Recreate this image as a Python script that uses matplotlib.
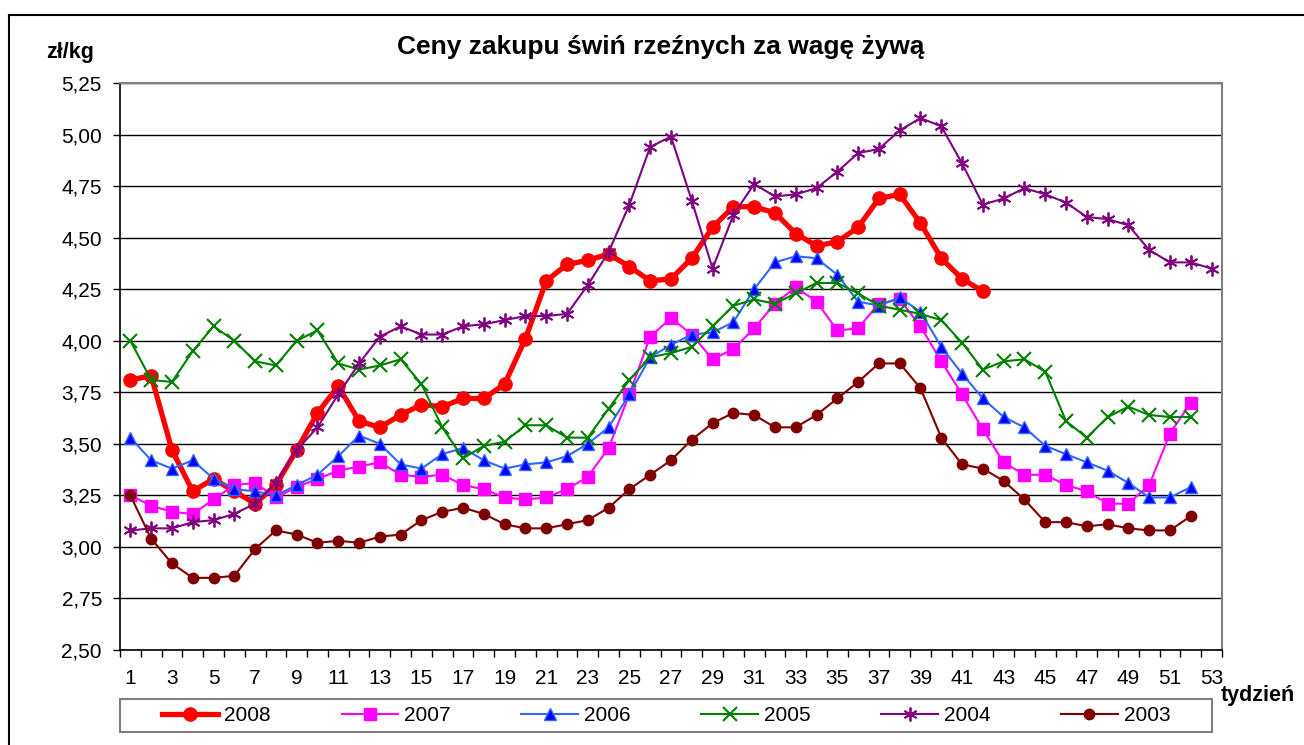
import numpy as np
import matplotlib
matplotlib.use("Agg")
import matplotlib.pyplot as plt
from matplotlib.lines import Line2D
from matplotlib.patches import Rectangle

plt.rcParams['font.family'] = ['Liberation Sans', 'DejaVu Sans']

"""Dane: ceny tygodniowe (zl/kg)"""
weeks = np.arange(1, 54)
y2008 = [3.81, 3.83, 3.47, 3.27, 3.33, 3.27, 3.21, 3.30, 3.47, 3.65, 3.78, 3.61, 3.58, 3.64,
         3.69, 3.68, 3.72, 3.72, 3.79, 4.01, 4.29, 4.37, 4.39, 4.42, 4.36, 4.29, 4.30, 4.40,
         4.55, 4.65, 4.65, 4.62, 4.52, 4.46, 4.48, 4.55, 4.69, 4.71, 4.57, 4.40, 4.30, 4.24]
y2007 = [3.25, 3.20, 3.17, 3.16, 3.23, 3.30, 3.31, 3.24, 3.29, 3.33, 3.37, 3.39, 3.41, 3.35,
         3.34, 3.35, 3.30, 3.28, 3.24, 3.23, 3.24, 3.28, 3.34, 3.48, 3.74, 4.02, 4.11, 4.03,
         3.91, 3.96, 4.06, 4.18, 4.26, 4.19, 4.05, 4.06, 4.18, 4.20, 4.07, 3.90, 3.74, 3.57,
         3.41, 3.35, 3.35, 3.30, 3.27, 3.21, 3.21, 3.30, 3.55, 3.70]
y2006 = [3.53, 3.42, 3.38, 3.42, 3.33, 3.28, 3.27, 3.25, 3.30, 3.35, 3.44, 3.54, 3.50, 3.40,
         3.38, 3.45, 3.48, 3.42, 3.38, 3.40, 3.41, 3.44, 3.50, 3.58, 3.74, 3.92, 3.98, 4.03,
         4.04, 4.09, 4.25, 4.38, 4.41, 4.40, 4.32, 4.19, 4.17, 4.21, 4.14, 3.97, 3.84, 3.72,
         3.63, 3.58, 3.49, 3.45, 3.41, 3.37, 3.31, 3.24, 3.24, 3.29]
y2005 = [4.00, 3.81, 3.80, 3.95, 4.07, 4.00, 3.90, 3.88, 4.00, 4.05, 3.89, 3.86, 3.88, 3.91,
         3.79, 3.58, 3.43, 3.49, 3.51, 3.59, 3.59, 3.53, 3.53, 3.67, 3.81, 3.92, 3.94, 3.97,
         4.07, 4.17, 4.20, 4.18, 4.23, 4.28, 4.28, 4.23, 4.17, 4.15, 4.13, 4.10, 3.99, 3.86,
         3.90, 3.91, 3.85, 3.61, 3.53, 3.63, 3.68, 3.64, 3.63, 3.63]
y2004 = [3.08, 3.09, 3.09, 3.12, 3.13, 3.16, 3.21, 3.31, 3.47, 3.58, 3.74, 3.89, 4.02, 4.07,
         4.03, 4.03, 4.07, 4.08, 4.10, 4.12, 4.12, 4.13, 4.27, 4.43, 4.66, 4.94, 4.99, 4.68,
         4.35, 4.61, 4.76, 4.70, 4.71, 4.74, 4.82, 4.91, 4.93, 5.02, 5.08, 5.04, 4.86, 4.66,
         4.69, 4.74, 4.71, 4.67, 4.60, 4.59, 4.56, 4.44, 4.38, 4.38, 4.35]
y2003 = [3.25, 3.04, 2.92, 2.85, 2.85, 2.86, 2.99, 3.08, 3.06, 3.02, 3.03, 3.02, 3.05, 3.06,
         3.13, 3.17, 3.19, 3.16, 3.11, 3.09, 3.09, 3.11, 3.13, 3.19, 3.28, 3.35, 3.42, 3.52,
         3.60, 3.65, 3.64, 3.58, 3.58, 3.64, 3.72, 3.80, 3.89, 3.89, 3.77, 3.53, 3.40, 3.38,
         3.32, 3.23, 3.12, 3.12, 3.10, 3.11, 3.09, 3.08, 3.08, 3.15]

yticks = np.arange(2.5, 5.26, 0.25)
ytick_labels = ['{:.2f}'.format(v).replace('.', ',') for v in yticks]
xticks = np.arange(1, 54, 2)

"""Rysowanie"""
fig = plt.figure(figsize=(13.04, 7.45), dpi=100)
ax = fig.add_axes([0.092, 0.1275, 0.8451, 0.7611])

ax.plot(weeks[:len(y2008)], y2008, '-o', color='#FF0000', lw=3.8, ms=9.5, label='2008')
ax.plot(weeks[:len(y2007)], y2007, '-s', color='#FF00FF', lw=1.5, ms=8, label='2007')
ax.plot(weeks[:len(y2006)], y2006, '-^', color='#3366FF', mfc='#0000FF', mec='#3366FF',
        lw=1.5, ms=8.5, label='2006')
ax.plot(weeks[:len(y2005)], y2005, '-x', color='#008000', lw=1.5, ms=10, mew=1.5, label='2005')
ax.plot(weeks[:len(y2004)], y2004, '-', marker=(6, 2, 0), color='#800080', lw=1.5, ms=10,
        mew=1.3, label='2004')
ax.plot(weeks[:len(y2003)], y2003, '-o', color='#800000', lw=1.5, ms=7.5, label='2003')

ax.set_xlim(0.5, 53.5)
ax.set_ylim(2.5, 5.25)
ax.set_yticks(yticks)
ax.set_yticklabels(ytick_labels, fontsize=15)
ax.set_xticks(xticks)
ax.set_xticklabels([str(w) for w in xticks], fontsize=15)
ax.set_xticks(np.arange(0.5, 54, 1), minor=True)
ax.tick_params(axis='x', which='major', length=0, pad=14)
ax.tick_params(axis='x', which='minor', length=5, width=1, direction='out')
ax.tick_params(axis='y', length=5, width=1, direction='out', pad=8)

ax.yaxis.grid(True, color='black', lw=1)
ax.set_axisbelow(True)
for s in ['top', 'right']:
    ax.spines[s].set_color('#808080')
    ax.spines[s].set_linewidth(1.5)
for s in ['left', 'bottom']:
    ax.spines[s].set_color('black')
    ax.spines[s].set_linewidth(1.2)

fig.text(0.507, 0.937, 'Ceny zakupu świń rzeźnych za wagę żywą', fontsize=19,
         fontweight='bold', ha='center', va='center')
fig.text(0.054, 0.930, 'zł/kg', fontsize=15.5, fontweight='bold', ha='center', va='center')
fig.text(0.9647, 0.067, 'tydzień', fontsize=15.5, fontweight='bold', ha='center', va='center')

# legenda bez ramki + osobny prostokat jako ramka
box_x0, box_y0 = 120/1304, 1 - 732/745
box_w, box_h = (1212-120)/1304, 33/745
ax.legend(loc='center', bbox_to_anchor=(box_x0 + box_w/2, box_y0 + box_h/2),
          bbox_transform=fig.transFigure, ncol=6, borderaxespad=0, fontsize=15,
          handlelength=2.7, handletextpad=0.3, columnspacing=3.4, borderpad=0,
          frameon=False)
fig.add_artist(Rectangle((box_x0, box_y0), box_w, box_h, transform=fig.transFigure,
                         fill=False, edgecolor='#808080', lw=1.5))

# ramka wokol calego wykresu
fig.add_artist(Line2D([9/1304, 9/1304], [0, 1-15/745], color='black', lw=1.5))
fig.add_artist(Line2D([9/1304, 1], [1-15/745, 1-15/745], color='black', lw=1.5))

fig.savefig('out.png', dpi=100)
